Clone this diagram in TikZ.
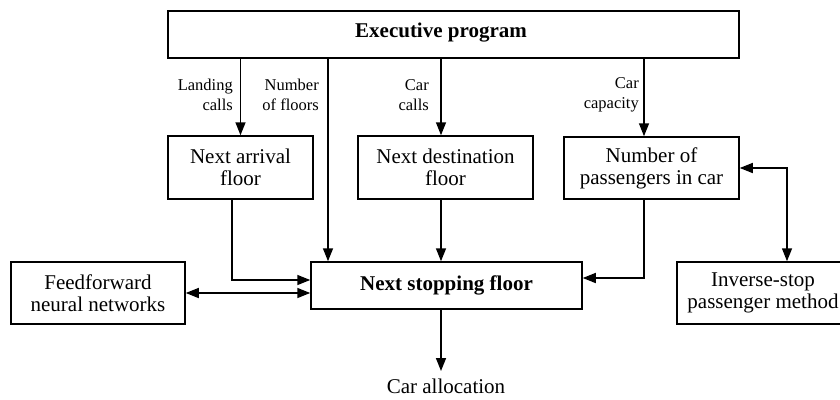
\documentclass[tikz,border=0pt]{standalone}
\usepackage{fontspec}
\setmainfont{Liberation Serif}
\usetikzlibrary{arrows.meta}
\begin{document}
\begin{tikzpicture}[x=1pt,y=-1pt,
  box/.style={draw, line width=1.5pt, inner sep=0pt, align=center, font=\fontsize{21}{22}\selectfont},
  lbl/.style={align=right, anchor=east, inner sep=0pt, font=\fontsize{16.5}{20}\selectfont},
  tip/.tip={Triangle[length=13pt,width=10pt]},
  conn/.style={line width=1.5pt, -tip},
  both/.style={line width=1.5pt, tip-tip}]
\clip (0,0) rectangle (840,399);
\fill[white] (0,0) rectangle (840,399);
% boxes
\node[box, minimum width=571pt, minimum height=47pt] (exec) at (453.5,34.5) {};
\node[inner sep=0pt, font=\bfseries\fontsize{21}{22}\selectfont] (exect) at (441,33) {Executive program};
\node[box, minimum width=145pt, minimum height=63pt] (na) at (240.5,167.5) {Next arrival\\floor};
\node[box, minimum width=175pt, minimum height=63pt] (nd) at (445.5,167.5) {Next destination\\floor};
\node[box, minimum width=175pt, minimum height=62pt] (np) at (651.5,168) {Number of\\passengers in car};
\node[box, minimum width=174pt, minimum height=62pt] (ff) at (98,293) {Feedforward\\neural networks};
\node[box, minimum width=271pt, minimum height=47pt, font=\bfseries\fontsize{21}{22}\selectfont] (ns) at (446.5,285.5) {Next stopping floor};
\node[box, minimum width=172pt, minimum height=62pt] (is) at (763,293) {Inverse-stop\\passenger method};
\node[inner sep=0pt, font=\fontsize{21}{22}\selectfont] (ca) at (446,386) {Car allocation};
% column coordinates
\coordinate (c328) at (328,0);
\coordinate (c441) at (441,0);
\coordinate (c644) at (644,0);
\coordinate (c232) at (232,280);
\coordinate (r278) at (644,278);
\coordinate (r293) at (0,293);
\coordinate (c787) at (787,0);
\coordinate (caend) at (441,371);
% labels
\node[lbl] (l1) at (233,95) {Landing\\calls};
\node[lbl] (l2) at (319,95) {Number\\of floors};
\node[lbl] (l3) at (429,95) {Car\\calls};
\node[lbl] (l4) at (639,95) {Car\\capacity};
% connectors from executive program
\draw[conn] (exec.south -| na.north) -- (na.north);
\draw[conn] (exec.south -| c328) -- (ns.north -| c328);
\draw[conn] (exec.south -| c441) -- (nd.north -| c441);
\draw[conn] (exec.south -| c644) -- (np.north -| c644);
% into next stopping floor
\draw[conn] (na.south -| c232) -- (c232) -- (ns.west |- c232);
\draw[conn] (nd.south -| c441) -- (ns.north -| c441);
\draw[conn] (np.south -| r278) -- (r278) -- (ns.east |- r278);
\draw[both] (ff.east |- r293) -- (ns.west |- r293);
\draw[both] (np.east) -- (np.east -| c787) -- (is.north -| c787);
\draw[conn] (ns.south -| c441) -- (caend);
\end{tikzpicture}
\end{document}
